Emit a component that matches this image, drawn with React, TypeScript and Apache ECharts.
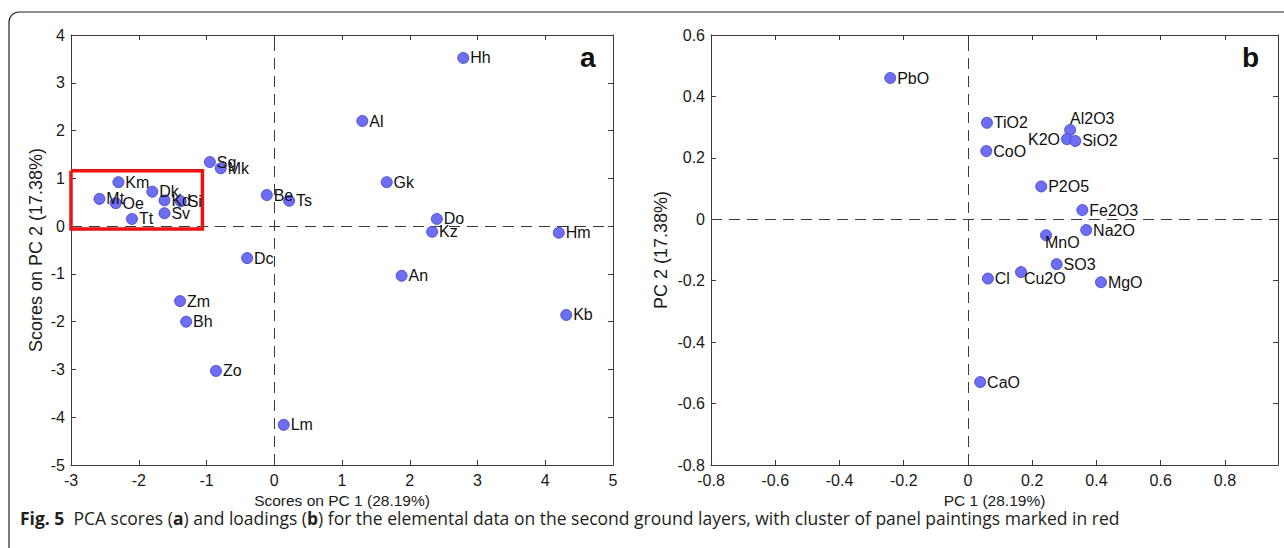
import React, { useEffect, useRef } from "react";
import * as echarts from "echarts";

// ---- Panel a: PCA scores ----
const scoreNames = ["Hh", "Al", "Sg", "Mk", "Be", "Ts", "Gk", "Do", "Kz", "Dc", "An", "Hm", "Kb", "Zm", "Bh", "Zo", "Lm", "Km", "Mt", "Oe", "Dk", "Kd", "Si", "Sv", "Tt"];
const scoreX = [2.79, 1.3, -0.95, -0.79, -0.11, 0.22, 1.66, 2.4, 2.33, -0.4, 1.88, 4.2, 4.31, -1.39, -1.3, -0.86, 0.14, -2.3, -2.58, -2.34, -1.8, -1.62, -1.38, -1.62, -2.1];
const scoreY = [3.52, 2.2, 1.34, 1.21, 0.65, 0.53, 0.92, 0.15, -0.12, -0.67, -1.04, -0.14, -1.86, -1.57, -2.0, -3.03, -4.16, 0.92, 0.57, 0.48, 0.72, 0.54, 0.52, 0.27, 0.15];
const scoreXRange = [-3, 5];
const scoreYRange = [-5, 4];
// cluster of panel paintings (red box)
const clusterX = [-3, -1.06];
const clusterY = [-0.06, 1.16];

// ---- Panel b: PCA loadings ----
const loadingNames = ["PbO", "TiO2", "CoO", "Al2O3", "K2O", "SiO2", "P2O5", "Fe2O3", "Na2O", "MnO", "SO3", "Cu2O", "Cl", "MgO", "CaO"];
const loadingX = [-0.242, 0.059, 0.057, 0.318, 0.308, 0.334, 0.228, 0.356, 0.368, 0.243, 0.276, 0.165, 0.062, 0.414, 0.038];
const loadingY = [0.46, 0.314, 0.222, 0.291, 0.261, 0.255, 0.107, 0.03, -0.035, -0.052, -0.146, -0.172, -0.193, -0.205, -0.53];
const loadingXRange = [-0.8, 0.965];
const loadingYRange = [-0.8, 0.6];

const FONT = "Liberation Sans, Arial, sans-serif";
const CAPTION_FONT = "Open Sans, Noto Sans, sans-serif";

const labelTweaks: Record<string, any> = {
  K2O: { position: "left", distance: 1 },
  Al2O3: { offset: [-7, -11] },
  MnO: { offset: [-8, 7] },
  Cu2O: { offset: [-4, 6] },
};

function pts(names: string[], xs: number[], ys: number[]) {
  return names.map((n, i) => {
    const d: any = { name: n, value: [xs[i], ys[i]] };
    if (labelTweaks[n]) d.label = labelTweaks[n];
    return d;
  });
}

const axisCommon = {
  axisLine: { show: true, onZero: false, lineStyle: { color: "#3a3a3a", width: 1 } },
  axisTick: { show: true, inside: true, length: 5, lineStyle: { color: "#3a3a3a" } },
  splitLine: { show: false },
};
const xNameStyle = { fontFamily: FONT, fontSize: 15.5, color: "#1a1a1a" };
const yNameStyle = { fontFamily: FONT, fontSize: 18, color: "#1a1a1a" };
const labelStyle = { fontFamily: FONT, fontSize: 16, color: "#1a1a1a" };

const fmt1 = (v: number) => {
  const r = Math.round(v * 10) / 10;
  if (Math.abs(v - r) > 1e-6) return "";
  return String(r === 0 ? 0 : r);
};

function scatterSeries(xi: number, yi: number, data: any[]) {
  return {
    type: "scatter",
    xAxisIndex: xi,
    yAxisIndex: yi,
    data,
    symbol: "circle",
    symbolSize: 11,
    itemStyle: { color: "#6e6ef2", borderColor: "#3c3cc8", borderWidth: 0.8, opacity: 1 },
    label: {
      show: true,
      position: "right",
      distance: 1,
      formatter: "{b}",
      fontFamily: FONT,
      fontSize: 16,
      color: "#111",
    },
    markLine: {
      silent: true,
      symbol: "none",
      label: { show: false },
      lineStyle: { color: "#3a3a3a", width: 1, type: [11, 7] },
      data: [{ xAxis: 0 }, { yAxis: 0 }],
      z: 1,
    },
    z: 3,
  };
}

export default function App() {
  const ref = useRef<HTMLDivElement>(null);
  useEffect(() => {
    if (!ref.current) return;
    const chart = echarts.init(ref.current, null, { renderer: "svg" });
    const option: any = {
      animation: false,
      backgroundColor: "#fff",
      grid: [
        { left: 71, right: 1284 - 613, top: 35, bottom: 548 - 465 },
        { left: 711, right: 1284 - 1278, top: 35, bottom: 548 - 465 },
      ],
      xAxis: [
        {
          ...axisCommon, type: "value", gridIndex: 0, position: "bottom",
          min: scoreXRange[0], max: scoreXRange[1], interval: 1,
          name: "Scores on PC 1 (28.19%)", nameLocation: "middle", nameGap: 27,
          nameTextStyle: xNameStyle,
          axisLabel: { ...labelStyle, margin: 7 },
        },
        {
          ...axisCommon, type: "value", gridIndex: 0, position: "top",
          min: scoreXRange[0], max: scoreXRange[1], interval: 1,
          axisLabel: { show: false },
        },
        {
          ...axisCommon, type: "value", gridIndex: 1, position: "bottom",
          min: loadingXRange[0], max: loadingXRange[1], interval: 0.2,
          name: "PC 1 (28.19%)", nameLocation: "middle", nameGap: 27,
          nameTextStyle: xNameStyle,
          axisLabel: { ...labelStyle, margin: 7, formatter: (v: number) => (v > 0.81 ? "" : fmt1(v)) },
        },
        {
          ...axisCommon, type: "value", gridIndex: 1, position: "top",
          min: loadingXRange[0], max: loadingXRange[1], interval: 0.2,
          axisLabel: { show: false },
        },
      ],
      yAxis: [
        {
          ...axisCommon, type: "value", gridIndex: 0, position: "left",
          min: scoreYRange[0], max: scoreYRange[1], interval: 1,
          name: "Scores on PC 2 (17.38%)", nameLocation: "middle", nameGap: 26,
          nameTextStyle: yNameStyle,
          axisLabel: { ...labelStyle, margin: 6 },
        },
        {
          ...axisCommon, type: "value", gridIndex: 0, position: "right",
          min: scoreYRange[0], max: scoreYRange[1], interval: 1,
          axisLabel: { show: false },
        },
        {
          ...axisCommon, type: "value", gridIndex: 1, position: "left",
          min: loadingYRange[0], max: loadingYRange[1], interval: 0.2,
          name: "PC 2 (17.38%)", nameLocation: "middle", nameGap: 41,
          nameTextStyle: yNameStyle,
          axisLabel: { ...labelStyle, margin: 6, formatter: fmt1 },
        },
        {
          ...axisCommon, type: "value", gridIndex: 1, position: "right",
          min: loadingYRange[0], max: loadingYRange[1], interval: 0.2,
          axisLabel: { show: false },
        },
      ],
      series: [
        {
          type: "line",
          xAxisIndex: 0,
          yAxisIndex: 0,
          symbol: "none",
          data: [
            [clusterX[0], clusterY[1]],
            [clusterX[1], clusterY[1]],
            [clusterX[1], clusterY[0]],
            [clusterX[0], clusterY[0]],
            [clusterX[0], clusterY[1]],
          ],
          lineStyle: { color: "#ee1111", width: 3.5, join: "miter" },
          z: 2,
          silent: true,
        },
        scatterSeries(0, 0, pts(scoreNames, scoreX, scoreY)),
        scatterSeries(2, 2, pts(loadingNames, loadingX, loadingY)),
      ],
      graphic: [
        {
          type: "rect",
          shape: { x: 9, y: 12, width: 1400, height: 700, r: [10, 0, 0, 0] },
          style: { fill: "none", stroke: "#222", lineWidth: 1.2 },
          silent: true,
          z: 0,
        },
        {
          type: "text",
          x: 580,
          y: 43,
          style: { text: "a", fontFamily: FONT, fontSize: 28, fontWeight: "bold", fill: "#111" },
        },
        {
          type: "text",
          x: 1242,
          y: 43,
          style: { text: "b", fontFamily: FONT, fontSize: 28, fontWeight: "bold", fill: "#111" },
        },
        {
          type: "text",
          x: 20,
          y: 509,
          style: {
            text:
              "{b|Fig. 5}  PCA scores ({b|a}) and loadings ({b|b}) for the elemental data on the second ground layers, with cluster of panel paintings marked in red",
            fontFamily: CAPTION_FONT,
            fontSize: 17.5,
            fill: "#231f20",
            rich: {
              b: { fontFamily: CAPTION_FONT, fontSize: 17.5, fontWeight: "bold", fill: "#231f20" },
            },
          },
        },
      ],
    };
    chart.setOption(option);
    return () => chart.dispose();
  }, []);
  return (
    <div
      ref={ref}
      style={{ position: "absolute", left: 0, top: 0, width: 1284, height: 548 }}
    />
  );
}
